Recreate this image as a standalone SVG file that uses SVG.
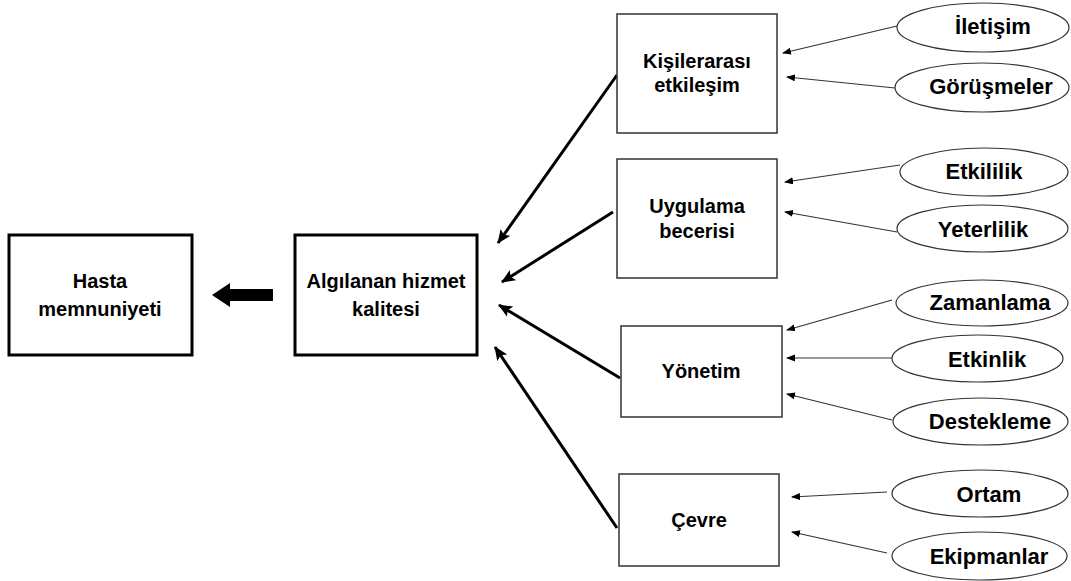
<svg xmlns="http://www.w3.org/2000/svg" width="1071" height="581" viewBox="0 0 1071 581">
<defs>
<marker id="big" markerUnits="userSpaceOnUse" markerWidth="16" markerHeight="14" refX="13" refY="6" orient="auto">
<path d="M0,0 L14,6 L0,12 L3,6 Z" fill="#000"/>
</marker>
<marker id="small" markerUnits="userSpaceOnUse" markerWidth="10" markerHeight="8" refX="8" refY="3.5" orient="auto">
<path d="M0,0 L9,3.5 L0,7 Z" fill="#000"/>
</marker>
<style>
text{font-family:"Liberation Sans",Arial,sans-serif;font-weight:bold;fill:#000;text-anchor:middle}
.bt{font-size:20px}
.et{font-size:22px}
.main{fill:#fff;stroke:#000;stroke-width:3}
.sub{fill:#fff;stroke:#333;stroke-width:1.5}
.ell{fill:#fff;stroke:#333;stroke-width:1.2}
.big{stroke:#000;stroke-width:3;fill:none;marker-end:url(#big)}
.sm{stroke:#333;stroke-width:1.2;fill:none;marker-end:url(#small)}
</style>
</defs>
<rect width="1071" height="581" fill="#fff"/>
<g id="connectors">
<polygon points="273,289 230,289 230,283 212,295 230,307 230,301 273,301" fill="#000"/>
<line class="big" x1="617" y1="75" x2="498" y2="243"/>
<line class="big" x1="613" y1="212" x2="502" y2="282"/>
<line class="big" x1="620" y1="378" x2="499" y2="305"/>
<line class="big" x1="617" y1="528" x2="495" y2="347"/>
<line class="sm" x1="897" y1="26" x2="783" y2="53"/>
<line class="sm" x1="895" y1="88" x2="787" y2="77"/>
<line class="sm" x1="900" y1="165" x2="785" y2="182"/>
<line class="sm" x1="897" y1="232" x2="785" y2="212"/>
<line class="sm" x1="892" y1="300" x2="787" y2="330"/>
<line class="sm" x1="892" y1="358" x2="787" y2="358"/>
<line class="sm" x1="892" y1="420" x2="787" y2="394"/>
<line class="sm" x1="887" y1="492" x2="792" y2="497"/>
<line class="sm" x1="887" y1="553" x2="792" y2="532"/>
</g>
<g id="hasta">
<rect class="main" x="9" y="235" width="183" height="120"/>
<text class="bt" x="100" y="288">Hasta</text>
<text class="bt" x="100" y="316">memnuniyeti</text>
</g>
<g id="algilanan">
<rect class="main" x="295" y="235" width="182" height="120"/>
<text class="bt" x="386" y="288">Algılanan hizmet</text>
<text class="bt" x="386" y="316">kalitesi</text>
</g>
<g id="kisilerarasi">
<rect class="sub" x="617" y="14" width="160" height="119"/>
<text class="bt" x="697" y="68">Kişilerarası</text>
<text class="bt" x="697" y="92">etkileşim</text>
</g>
<g id="uygulama">
<rect class="sub" x="617" y="159" width="160" height="119"/>
<text class="bt" x="697" y="213">Uygulama</text>
<text class="bt" x="697" y="238">becerisi</text>
</g>
<g id="yonetim">
<rect class="sub" x="621" y="326" width="161" height="91"/>
<text class="bt" x="701" y="378">Yönetim</text>
</g>
<g id="cevre">
<rect class="sub" x="619" y="474" width="160" height="92"/>
<text class="bt" x="699" y="527">Çevre</text>
</g>
<g id="iletisim">
<ellipse class="ell" cx="983" cy="27.5" rx="86" ry="24.5"/>
<text class="et" x="993" y="34">İletişim</text>
</g>
<g id="gorusmeler">
<ellipse class="ell" cx="982" cy="87.5" rx="87" ry="24.5"/>
<text class="et" x="991" y="94">Görüşmeler</text>
</g>
<g id="etkililik">
<ellipse class="ell" cx="984" cy="172" rx="84" ry="24"/>
<text class="et" x="984" y="179">Etkililik</text>
</g>
<g id="yeterlilik">
<ellipse class="ell" cx="982.5" cy="228.5" rx="85.5" ry="23.5"/>
<text class="et" x="983" y="237">Yeterlilik</text>
</g>
<g id="zamanlama">
<ellipse class="ell" cx="982" cy="303" rx="86" ry="23"/>
<text class="et" x="990" y="310">Zamanlama</text>
</g>
<g id="etkinlik">
<ellipse class="ell" cx="977.5" cy="358.5" rx="85.5" ry="23.5"/>
<text class="et" x="987" y="367">Etkinlik</text>
</g>
<g id="destekleme">
<ellipse class="ell" cx="980.5" cy="421.5" rx="87.5" ry="23.5"/>
<text class="et" x="990" y="429">Destekleme</text>
</g>
<g id="ortam">
<ellipse class="ell" cx="980" cy="493.5" rx="88" ry="23.5"/>
<text class="et" x="989" y="502">Ortam</text>
</g>
<g id="ekipmanlar">
<ellipse class="ell" cx="979.5" cy="556" rx="87.5" ry="24"/>
<text class="et" x="989" y="564">Ekipmanlar</text>
</g>
</svg>
